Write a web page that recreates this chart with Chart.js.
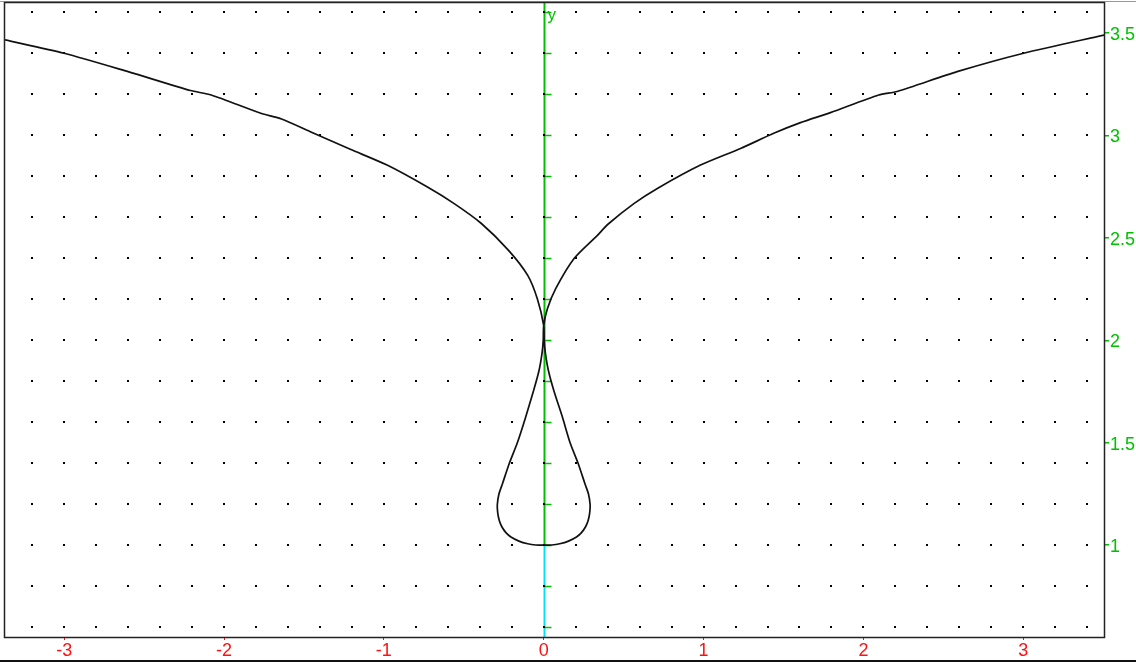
<!DOCTYPE html>
<html>
<head>
<meta charset="utf-8">
<title>Kromme</title>
<script src="https://cdn.jsdelivr.net/npm/chart.js@4.4.1/dist/chart.umd.min.js"></script>
<style>
    html, body { margin: 0; padding: 0; background: #fff; }
    #wrap { width: 1136px; height: 663px; position: relative; }
</style>
</head>
<body>
<div id="wrap"><canvas id="plot" width="1136" height="663"></canvas></div>
<script>
// Kromme: linker tak, lus rond de y-as, rechter tak (in volgorde van tekenen)
const curveX = [
    -3.37, -3.0, -2.6, -2.21, -2.08, -1.77, -1.64, -1.46, -1.21, -0.98, -0.73, -0.56, -0.39, -0.22, -0.10, -0.04, 0.0,
    0.003, 0.01, 0.03, 0.065, 0.115, 0.165, 0.215, 0.258, 0.28, 0.29, 0.288, 0.278, 0.262, 0.235, 0.205, 0.155, 0.1, 0.05, 0.0,
    -0.05, -0.1, -0.155, -0.205, -0.235, -0.262, -0.278, -0.288, -0.29, -0.28, -0.258, -0.215, -0.165, -0.115, -0.065, -0.03, -0.01, -0.003,
    0.0, 0.023, 0.075, 0.19, 0.336, 0.40, 0.564, 0.711, 0.981, 1.231, 1.439, 1.606, 1.794, 2.096, 2.211, 2.586, 3.002, 3.51
];
const curveY = [
    3.466, 3.401, 3.311, 3.219, 3.197, 3.108, 3.080, 3.018, 2.932, 2.855, 2.749, 2.667, 2.570, 2.439, 2.317, 2.203, 2.072,
    2.0, 1.94, 1.85, 1.75, 1.63, 1.5, 1.4, 1.3, 1.25, 1.2, 1.16, 1.12, 1.09, 1.06, 1.04, 1.02, 1.007, 1.001, 1.0,
    1.001, 1.007, 1.02, 1.04, 1.06, 1.09, 1.12, 1.16, 1.2, 1.25, 1.3, 1.4, 1.5, 1.62, 1.75, 1.85, 1.94, 2.0,
    2.072, 2.154, 2.252, 2.399, 2.512, 2.565, 2.667, 2.741, 2.855, 2.936, 3.010, 3.062, 3.111, 3.197, 3.214, 3.311, 3.401, 3.49
];

// As-labels
const xTickValues = [-3, -2, -1, 0, 1, 2, 3];
const xTickLabels = ['-3', '-2', '-1', '0', '1', '2', '3'];
const yTickValues = [1, 1.5, 2, 2.5, 3, 3.5];
const yTickLabels = ['1', '1.5', '2', '2.5', '3', '3.5'];

// Bereik van het venster
const xRange = [-3.37, 3.505];
const yRange = [0.552, 3.646];

const GROEN = '#00c000';
const CYAAN = '#00e4f4';
const ROOD = '#ff1010';
const FONT = '"Liberation Sans", Arial, sans-serif';

const points = curveX.map((x, i) => ({ x: x, y: curveY[i] }));

// Stippenraster, y-as en kader
const rasterPlugin = {
    id: 'raster',
    beforeDatasetsDraw(chart) {
        const ctx = chart.ctx;
        const area = chart.chartArea;
        const xs = chart.scales.x;
        const ys = chart.scales.y;
        const x0 = Math.round(xs.getPixelForValue(0)) + 0.5;

        ctx.save();
        // y-as: groen boven y=1, cyaan eronder
        const yOne = ys.getPixelForValue(1);
        ctx.lineWidth = 2;
        ctx.strokeStyle = GROEN;
        ctx.beginPath();
        ctx.moveTo(x0, area.top);
        ctx.lineTo(x0, yOne);
        ctx.stroke();
        ctx.strokeStyle = CYAAN;
        ctx.beginPath();
        ctx.moveTo(x0, yOne);
        ctx.lineTo(x0, area.bottom);
        ctx.stroke();

        // streepjes langs de y-as, elke 0.2
        ctx.strokeStyle = GROEN;
        ctx.lineWidth = 1.5;
        for (let k = 3; k <= 18; k++) {
            const py = Math.round(ys.getPixelForValue(k * 0.2)) + 0.5;
            ctx.beginPath();
            ctx.moveTo(x0, py);
            ctx.lineTo(x0 + 7, py);
            ctx.stroke();
        }

        // stippen elke 0.2 in beide richtingen
        ctx.fillStyle = '#000';
        for (let i = -16; i <= 17; i++) {
            const px = Math.round(xs.getPixelForValue(i * 0.2));
            for (let k = 3; k <= 18; k++) {
                const py = Math.round(ys.getPixelForValue(k * 0.2));
                ctx.fillRect(px - 1, py - 1, 2, 2);
            }
        }

        // letter y bovenaan de as
        ctx.fillStyle = GROEN;
        ctx.font = '17px ' + FONT;
        ctx.textBaseline = 'middle';
        ctx.textAlign = 'left';
        ctx.fillText('y', x0 + 3, ys.getPixelForValue(3.6) + 3);
        ctx.restore();
    },
    afterDraw(chart) {
        const ctx = chart.ctx;
        const area = chart.chartArea;
        ctx.save();
        ctx.strokeStyle = '#999';
        ctx.lineWidth = 1;
        ctx.beginPath();
        ctx.moveTo(0, 1.5);
        ctx.lineTo(chart.width, 1.5);
        ctx.stroke();
        ctx.strokeStyle = '#222';
        ctx.lineWidth = 1.5;
        ctx.strokeRect(area.left - 0.5, area.top - 0.5, area.right - area.left + 1, area.bottom - area.top + 1);
        // lijn onderaan het venster
        ctx.strokeStyle = '#111';
        ctx.lineWidth = 2;
        ctx.beginPath();
        ctx.moveTo(0, 661);
        ctx.lineTo(chart.width, 661);
        ctx.stroke();
        ctx.restore();
    }
};

const plotChart = new Chart(document.getElementById('plot'), {
    type: 'scatter',
    data: {
        datasets: [{
            data: points,
            showLine: true,
            borderColor: '#111',
            borderWidth: 1.7,
            pointRadius: 0,
            tension: 0.25,
            fill: false
        }]
    },
    options: {
        responsive: false,
        animation: false,
        events: [],
        layout: { padding: { left: 5, top: 3, right: 0, bottom: 0 } },
        plugins: { legend: { display: false }, tooltip: { enabled: false } },
        scales: {
            x: {
                type: 'linear',
                position: 'bottom',
                min: xRange[0],
                max: xRange[1],
                afterBuildTicks: s => { s.ticks = xTickValues.map(v => ({ value: v })); },
                afterFit: s => { s.height = 26; s.paddingLeft = 0; s.paddingRight = 0; },
                border: { display: false },
                grid: { drawOnChartArea: false, drawTicks: true, tickLength: 3, color: ROOD, lineWidth: 1 },
                ticks: {
                    color: ROOD,
                    font: { family: FONT, size: 18 },
                    padding: 0,
                    maxRotation: 0,
                    autoSkip: false,
                    callback: (v) => xTickLabels[xTickValues.indexOf(v)]
                }
            },
            y: {
                type: 'linear',
                position: 'right',
                min: yRange[0],
                max: yRange[1],
                afterBuildTicks: s => { s.ticks = yTickValues.map(v => ({ value: v })); },
                afterFit: s => { s.width = 32; s.paddingTop = 0; s.paddingBottom = 0; },
                border: { display: false },
                grid: { drawOnChartArea: false, drawTicks: true, tickLength: 5, color: GROEN, lineWidth: 1.5 },
                ticks: {
                    color: GROEN,
                    font: { family: FONT, size: 18 },
                    padding: 1,
                    labelOffset: 2,
                    autoSkip: false,
                    callback: (v) => yTickLabels[yTickValues.indexOf(v)]
                }
            }
        }
    },
    plugins: [rasterPlugin]
});
</script>
</body>
</html>
